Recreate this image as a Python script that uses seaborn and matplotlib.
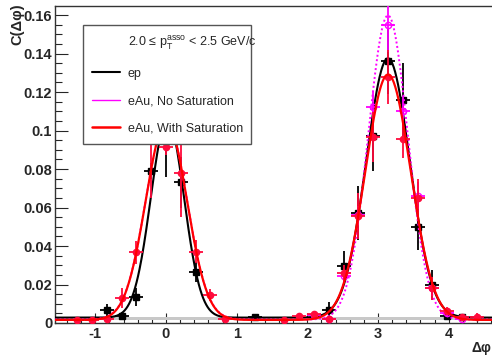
import numpy as np
import pandas as pd
import matplotlib
matplotlib.use("Agg")
import matplotlib.pyplot as plt
from matplotlib.lines import Line2D
from matplotlib.ticker import MultipleLocator, FuncFormatter
import seaborn as sns

# ---------------------------
# DATA
# ---------------------------
bin_width = np.pi / 15  # delta-phi bin width, bins centred on k * pi/15

ep_bins = [-4, -3, -2, -1, 0, 1, 2, 6, 11, 12, 13, 14, 15, 16, 17, 18, 19, 20]
ep_vals = [0.0067, 0.0036, 0.0135, 0.079, 0.102, 0.073, 0.0265, 0.003,
           0.0067, 0.0296, 0.057, 0.097, 0.136, 0.116, 0.050, 0.0197, 0.0036, 0.003]
ep_errs = [0.003, 0.002, 0.0045, 0.004, 0.026, 0.013, 0.005, 0.001,
           0.004, 0.008, 0.014, 0.018, 0.017, 0.019, 0.012, 0.008, 0.002, 0.0015]

sat_bins = [-6, -5, -4, -3, -2, -1, 0, 1, 2, 3, 4,
            8, 9, 10, 11, 12, 13, 14, 15, 16, 17, 18, 19, 20, 21]
sat_vals = [0.0016, 0.0016, 0.002, 0.013, 0.0368, 0.100, 0.0914, 0.078, 0.037, 0.0145, 0.002,
            0.0016, 0.0036, 0.0047, 0.002, 0.026, 0.0555, 0.0966, 0.128, 0.0955, 0.065,
            0.018, 0.0062, 0.003, 0.003]
sat_errs = [0.0006, 0.0006, 0.001, 0.005, 0.006, 0.035, 0.004, 0.023, 0.006, 0.003, 0.001,
            0.0006, 0.001, 0.0015, 0.001, 0.004, 0.012, 0.013, 0.014, 0.010, 0.010,
            0.006, 0.002, 0.001, 0.002]

nosat_bins = [10, 11, 12, 13, 14, 15, 16, 17, 18, 19, 20]
nosat_vals = [0.004, 0.002, 0.0244, 0.056, 0.112, 0.1547, 0.110, 0.066, 0.018, 0.005, 0.002]
nosat_errs = [0.0015, 0.001, 0.003, 0.005, 0.008, 0.014, 0.008, 0.007, 0.004, 0.002, 0.001]

# fit parameters: pedestal, near-side (amp, mean, sigma), away-side (amp, sigma)
ep_fit = [0.0028, 0.103, 0.02, 0.235, 0.1347, 0.308]
sat_fit = [0.0016, 0.103, 0.005, 0.29, 0.1275, 0.321]
nosat_fit = [0.0018, 0.103, 0.005, 0.29, 0.158, 0.28]

ped_band = [0.0017, 0.0033]

header = r"2.0 ≤ $\mathregular{p_{T}^{asso}}$ < 2.5 GeV/c"
labels = ["ep", "eAu, No Saturation", "eAu, With Saturation"]


# ---------------------------
# HELPERS
# ---------------------------
def fit_curve(x, p):
    ped, a1, m1, s1, a2, s2 = p
    return (ped + a1 * np.exp(-(x - m1) ** 2 / (2 * s1 ** 2))
            + a2 * np.exp(-(x - np.pi) ** 2 / (2 * s2 ** 2)))


def draw_points(ax, bins, vals, errs, color, marker, ms, mfc, z):
    x = np.array(bins) * bin_width
    ax.errorbar(x, vals, yerr=errs, xerr=0.1, fmt=marker, color=color, ms=ms,
                mfc=mfc, mec=color, mew=1.0, elinewidth=1.3, capsize=0, zorder=z)


sns.set_style("ticks")
plt.rcParams["font.family"] = ["Liberation Sans", "DejaVu Sans"]
plt.rcParams["mathtext.fontset"] = "custom"
plt.rcParams["mathtext.rm"] = "Liberation Sans"
plt.rcParams["mathtext.it"] = "Liberation Sans:italic"

fig = plt.figure(figsize=(4.92, 3.55), dpi=100)
ax = fig.add_axes([55 / 492, 32 / 355, 444 / 492, 317 / 355])

xlo, xhi = -np.pi / 2, 3 * np.pi / 2
xs = np.linspace(xlo, xhi, 600)

ax.axhspan(ped_band[0], ped_band[1], color="#c8c8c8", lw=0, zorder=1)

curves = pd.DataFrame({"x": xs,
                       "ep": fit_curve(xs, ep_fit),
                       "nosat": fit_curve(xs, nosat_fit),
                       "sat": fit_curve(xs, sat_fit)})

draw_points(ax, ep_bins, ep_vals, ep_errs, "black", "s", 3.8, "black", 3)
sns.lineplot(data=curves, x="x", y="ep", color="black", lw=1.5, ax=ax, zorder=4)
draw_points(ax, nosat_bins, nosat_vals, nosat_errs, "#ff00ff", "o", 4.5, "none", 5)
sns.lineplot(data=curves, x="x", y="nosat", color="#ff00ff", lw=1.4, ax=ax, zorder=6,
             dashes=(1, 1.3))
draw_points(ax, sat_bins, sat_vals, sat_errs, "#ff0a3c", "o", 4.5, "#ff0a3c", 7)
sns.lineplot(data=curves, x="x", y="sat", color="red", lw=1.6, ax=ax, zorder=8)

ax.set_xlim(xlo, xhi)
ax.set_ylim(0, 0.1647)
ax.set_xlabel("")
ax.set_ylabel("")

ax.xaxis.set_major_locator(MultipleLocator(1))
ax.xaxis.set_minor_locator(MultipleLocator(0.2))
ax.yaxis.set_major_locator(MultipleLocator(0.02))
ax.yaxis.set_minor_locator(MultipleLocator(0.005))
fmt = FuncFormatter(lambda v, pos: "%g" % round(v, 4))
ax.xaxis.set_major_formatter(fmt)
ax.yaxis.set_major_formatter(fmt)

ax.tick_params(axis="y", which="major", direction="in", length=9.4, width=0.8,
               labelsize=10.5, pad=2)
ax.tick_params(axis="y", which="minor", direction="in", length=5, width=0.8)
ax.tick_params(axis="x", which="major", direction="in", length=7.2, width=0.8,
               labelsize=10.5, pad=3)
ax.tick_params(axis="x", which="minor", direction="in", length=3.6, width=0.8)
plt.setp(ax.get_xticklabels(), fontweight="bold")
plt.setp(ax.get_yticklabels(), fontweight="bold")
for s in ax.spines.values():
    s.set_color("#333333")
    s.set_linewidth(1.0)

fig.text(17 / 492, 1 - 3 / 355, "C(Δφ)", rotation=90, ha="center", va="top",
         fontsize=10.5, fontweight="bold")
fig.text(491 / 492, 1 - 348 / 355, "Δφ", ha="right", va="center",
         fontsize=10, fontweight="bold")

handles = [Line2D([], [], linestyle="none"),
           Line2D([], [], color="black", lw=1.5),
           Line2D([], [], color="#ff00ff", lw=1.0),
           Line2D([], [], color="red", lw=1.8)]
leg = ax.legend(handles, [header] + labels, loc="upper left",
                bbox_to_anchor=(83 / 492, 1 - 145 / 355, 168 / 492, 120 / 355),
                bbox_transform=fig.transFigure, mode="expand", borderaxespad=0,
                fontsize=9, handlelength=2.2, handletextpad=0.65, labelspacing=1.25,
                borderpad=0.75, fancybox=False, framealpha=1, edgecolor="#555555")
leg.get_frame().set_linewidth(1.0)
leg.set_zorder(20)

fig.savefig("out.png", dpi=100)
